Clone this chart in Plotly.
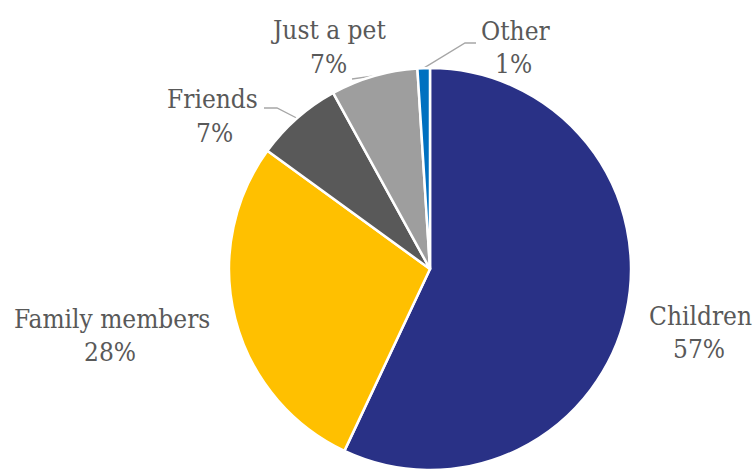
import math
import plotly.graph_objects as go

# Data
labels = ["Children", "Family members", "Friends", "Just a pet", "Other"]
shares = [57, 28, 7, 7, 1]  # percent
colors = ["#293186", "#FFC000", "#595959", "#9E9E9E", "#0070C0"]

W, H = 755, 470
CX, CY, R = 430, 269, 201  # pie centre and radius in pixels

# label layout: (name x, name baseline, pct x, pct baseline)
label_pos = {
    "Children": (700, 325, 699, 358),
    "Family members": (112, 328, 110, 361),
    "Friends": (212, 108, 214, 142),
    "Just a pet": (328, 39, 328, 73),
    "Other": (515, 40, 513, 73),
}
# leader line path beyond the slice edge (pixels)
leaders = {
    "Friends": [(277, 108), (264, 108)],
    "Just a pet": [(352, 79)],
    "Other": [(465, 43), (476, 43)],
}

FONT = "DejaVu Serif Condensed, DejaVu Serif, serif"
FS = 26
TXT = "#595959"

fig = go.Figure()
fig.add_trace(go.Pie(
    labels=labels, values=shares, sort=False, direction="clockwise", rotation=0,
    marker=dict(colors=colors, line=dict(color="white", width=2.5)),
    textinfo="none", hoverinfo="skip", showlegend=False,
    domain=dict(x=[(CX - R) / W, (CX + R) / W], y=[(H - CY - R) / H, (H - CY + R) / H]),
))

# leader lines from slice mid-angle on the rim
total = sum(shares)
cum = 0
for lab, v in zip(labels, shares):
    mid = 2 * math.pi * (cum + v / 2) / total
    cum += v
    if lab not in leaders:
        continue
    ax = CX + R * math.sin(mid)
    ay = CY - R * math.cos(mid)
    pts = [(ax, ay)] + leaders[lab]
    fig.add_trace(go.Scatter(
        x=[p[0] for p in pts], y=[p[1] for p in pts], mode="lines",
        line=dict(color="#A6A6A6", width=1.3), hoverinfo="skip", showlegend=False,
        xaxis="x", yaxis="y",
    ))

# text labels
off = 0.346 * FS
for lab, v in zip(labels, shares):
    nx, ny, px, py = label_pos[lab]
    for text, x, y in ((lab, nx, ny), (f"{v}%", px, py)):
        fig.add_annotation(x=x, y=y - off, xref="x", yref="y", text=text,
                           showarrow=False, xanchor="center", yanchor="middle",
                           font=dict(family=FONT, size=FS, color=TXT))

fig.update_layout(
    width=W, height=H, margin=dict(l=0, r=0, t=0, b=0),
    paper_bgcolor="white", plot_bgcolor="rgba(0,0,0,0)",
    font=dict(family=FONT),
    xaxis=dict(range=[0, W], visible=False, fixedrange=True),
    yaxis=dict(range=[H, 0], visible=False, fixedrange=True),
)

fig.write_html("out.html", config={"displayModeBar": False})
